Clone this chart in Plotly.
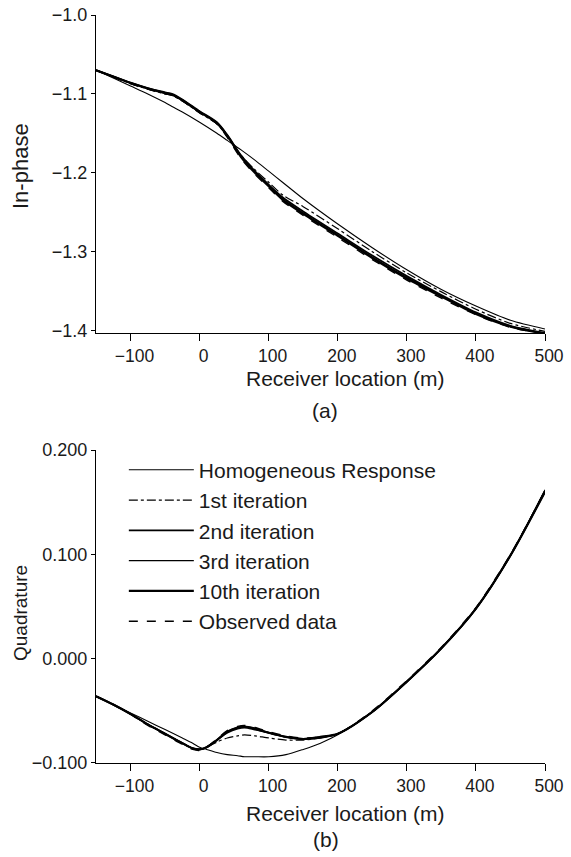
import plotly.graph_objects as go

# ---------------- data: (a) In-phase ----------------
x_top = [-150, -125, -100, -75, -50, -40, -25, 0, 25, 40, 60, 80, 100, 120, 150, 200, 250, 300, 350, 400, 450, 500]
inph_homog = [-1.070, -1.080, -1.090, -1.100, -1.111, -1.116, -1.123, -1.136, -1.150, -1.159, -1.171, -1.184, -1.198, -1.212,
              -1.233, -1.265, -1.295, -1.323, -1.348, -1.369, -1.387, -1.398]
inph_it1 = [-1.070, -1.079, -1.087, -1.094, -1.100, -1.102, -1.109, -1.124, -1.138, -1.154, -1.178, -1.196, -1.212, -1.228,
            -1.243, -1.271, -1.300, -1.327, -1.351, -1.373, -1.391, -1.401]
inph_it2 = [-1.070, -1.078, -1.086, -1.093, -1.098, -1.100, -1.107, -1.122, -1.136, -1.152, -1.178, -1.198, -1.215, -1.231,
            -1.249, -1.277, -1.305, -1.331, -1.355, -1.377, -1.394, -1.403]
inph_it3 = [-1.070, -1.078, -1.086, -1.093, -1.099, -1.101, -1.108, -1.123, -1.137, -1.153, -1.179, -1.199, -1.216, -1.233,
            -1.251, -1.279, -1.307, -1.333, -1.356, -1.378, -1.395, -1.404]
inph_it10 = [-1.070, -1.078, -1.086, -1.093, -1.099, -1.101, -1.108, -1.123, -1.137, -1.153, -1.180, -1.200, -1.217, -1.234,
             -1.252, -1.280, -1.308, -1.334, -1.357, -1.379, -1.395, -1.404]
inph_obs = [-1.070, -1.078, -1.087, -1.094, -1.100, -1.102, -1.109, -1.124, -1.138, -1.155, -1.182, -1.202, -1.219, -1.236,
            -1.254, -1.282, -1.310, -1.336, -1.359, -1.380, -1.396, -1.404]

# ---------------- data: (b) Quadrature ----------------
x_bot = [-150, -125, -100, -75, -50, -25, -10, 0, 10, 25, 40, 55, 65, 80, 100, 125, 150, 175, 200, 250, 300, 350, 400, 450, 500]
quad_homog = [-0.036, -0.044, -0.052, -0.060, -0.068, -0.076, -0.081, -0.085, -0.087, -0.090, -0.092, -0.093, -0.094, -0.094,
              -0.094, -0.092, -0.087, -0.081, -0.073, -0.051, -0.022, 0.010, 0.048, 0.099, 0.162]
quad_it1 = [-0.036, -0.044, -0.053, -0.063, -0.072, -0.081, -0.086, -0.087, -0.085, -0.080, -0.076, -0.074, -0.073, -0.074,
            -0.076, -0.078, -0.078, -0.076, -0.072, -0.051, -0.022, 0.010, 0.048, 0.099, 0.160]
quad_it2 = [-0.036, -0.044, -0.053, -0.063, -0.072, -0.081, -0.086, -0.087, -0.085, -0.078, -0.071, -0.067, -0.066, -0.068,
            -0.071, -0.075, -0.077, -0.076, -0.072, -0.051, -0.022, 0.010, 0.048, 0.099, 0.161]
quad_it3 = [-0.036, -0.044, -0.053, -0.063, -0.072, -0.081, -0.086, -0.087, -0.085, -0.078, -0.070, -0.066, -0.065, -0.067,
            -0.071, -0.075, -0.077, -0.075, -0.072, -0.051, -0.022, 0.010, 0.048, 0.099, 0.160]
quad_it10 = [-0.036, -0.044, -0.053, -0.063, -0.072, -0.081, -0.086, -0.087, -0.085, -0.078, -0.070, -0.066, -0.065, -0.067,
             -0.071, -0.075, -0.077, -0.075, -0.072, -0.051, -0.022, 0.010, 0.048, 0.099, 0.160]
quad_obs = [-0.036, -0.044, -0.053, -0.064, -0.073, -0.082, -0.087, -0.088, -0.085, -0.077, -0.069, -0.065, -0.064, -0.066,
            -0.070, -0.074, -0.076, -0.075, -0.072, -0.050, -0.021, 0.011, 0.049, 0.100, 0.161]

series_names = ["Homogeneous Response", "1st iteration", "2nd iteration", "3rd iteration", "10th iteration", "Observed data"]
top_series = [inph_homog, inph_it1, inph_it2, inph_it3, inph_it10, inph_obs]
bot_series = [quad_homog, quad_it1, quad_it2, quad_it3, quad_it10, quad_obs]
styles = [
    dict(width=1.1, dash="solid"),
    dict(width=1.2, dash="dashdot"),
    dict(width=1.8, dash="solid"),
    dict(width=1.4, dash="solid"),
    dict(width=2.2, dash="solid"),
    dict(width=1.4, dash="dash"),
]

FONT = "Liberation Sans"
TXT = "#1a1a1a"
fig = go.Figure()

for name, ys, st in zip(series_names, top_series, styles):
    fig.add_trace(go.Scatter(x=x_top, y=ys, mode="lines", name=name, showlegend=False,
                             line=dict(color="black", shape="spline", smoothing=0.8, **st),
                             xaxis="x", yaxis="y"))
for name, ys, st in zip(series_names, bot_series, styles):
    fig.add_trace(go.Scatter(x=x_bot, y=ys, mode="lines", name=name, showlegend=True, legendgroup=name,
                             line=dict(color="black", shape="spline", smoothing=0.8, **st),
                             xaxis="x2", yaxis="y2"))

xcommon = dict(showgrid=False, zeroline=False, showline=True, linecolor="black", linewidth=1.2,
               ticks="outside", tickcolor="black", ticklen=7, tickwidth=1, automargin=False,
               ticklabelshift=4, tickfont=dict(family=FONT, size=17.5, color=TXT),
               range=[-150, 500], tickvals=[-100, 0, 100, 200, 300, 400, 500])
ycommon = dict(showgrid=False, zeroline=False, showline=True, linecolor="black", linewidth=1.2,
               ticks="outside", tickcolor="black", ticklen=4, tickwidth=1, automargin=False,
               tickfont=dict(family=FONT, size=18, color=TXT))


def paper_x(px):
    return (px - 96) / 449.0


def paper_y(py):
    return (763 - py) / 748.0


annots = [
    dict(text="In-phase", x=paper_x(20), y=paper_y(166), textangle=-90, size=22),
    dict(text="Quadrature", x=paper_x(20), y=paper_y(613), textangle=-90, size=19),
    dict(text="Receiver location (m)", x=paper_x(345), y=paper_y(379), textangle=0, size=21),
    dict(text="(a)", x=paper_x(325), y=paper_y(410), textangle=0, size=21),
    dict(text="Receiver location (m)", x=paper_x(345), y=paper_y(813), textangle=0, size=21),
    dict(text="(b)", x=paper_x(326), y=paper_y(839), textangle=0, size=21),
]

fig.update_layout(
    width=571, height=857,
    paper_bgcolor="white", plot_bgcolor="white",
    margin=dict(l=96, r=26, t=15, b=94, autoexpand=False),
    font=dict(family=FONT, size=18, color=TXT),
    xaxis=dict(domain=[0, 1], anchor="y", **xcommon),
    yaxis=dict(domain=[0.575, 1.0], anchor="x", range=[-1.403, -1.0], tickvals=[-1.4, -1.3, -1.2, -1.1, -1.0],
               tickformat=".1f", **ycommon),
    xaxis2=dict(domain=[0, 1], anchor="y2", **xcommon),
    yaxis2=dict(domain=[0, 0.4184], anchor="x2", range=[-0.1, 0.2], tickvals=[-0.1, 0.0, 0.1, 0.2],
                tickformat=".3f", **ycommon),
    legend=dict(x=0.062, y=0.419, xanchor="left", yanchor="top", bgcolor="rgba(0,0,0,0)",
                font=dict(family=FONT, size=21, color=TXT), tracegroupgap=0, itemwidth=65),
    annotations=[dict(text=a["text"], xref="paper", yref="paper", x=a["x"], y=a["y"], showarrow=False,
                      textangle=a["textangle"], xanchor="center", yanchor="middle",
                      font=dict(family=FONT, size=a["size"], color=TXT)) for a in annots],
)

fig.write_html("out.html", config={"displayModeBar": False},
               post_script="document.body.style.margin='0';document.body.style.overflow='hidden';")
